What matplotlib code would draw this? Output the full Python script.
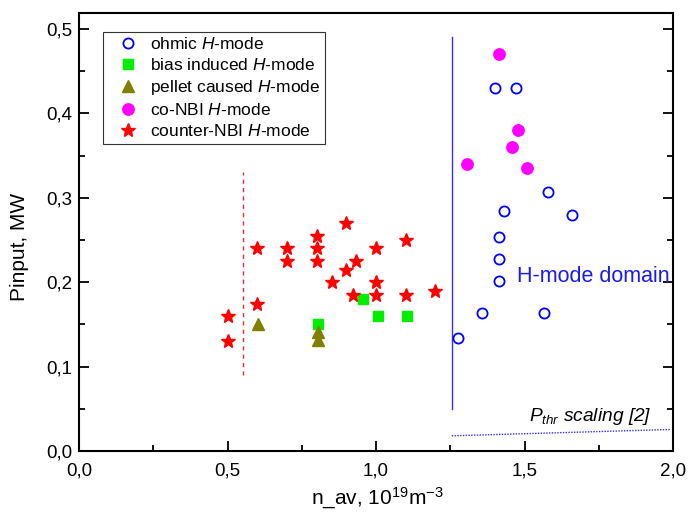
import matplotlib
matplotlib.use("Agg")
import matplotlib.pyplot as plt
from matplotlib.ticker import MultipleLocator, FuncFormatter

plt.rcParams['font.family'] = ['Liberation Sans', 'DejaVu Sans']
plt.rcParams['mathtext.fontset'] = 'custom'
plt.rcParams['mathtext.rm'] = 'Liberation Sans'
plt.rcParams['mathtext.it'] = 'Liberation Sans:italic'
plt.rcParams['mathtext.bf'] = 'Liberation Sans:bold'

# ohmic H-mode
ohmic_n = [1.40, 1.47, 1.58, 1.43, 1.66, 1.415, 1.415, 1.415, 1.355, 1.565, 1.275]
ohmic_p = [0.43, 0.43, 0.307, 0.284, 0.28, 0.254, 0.228, 0.202, 0.163, 0.163, 0.134]

# bias induced H-mode
bias_n = [0.955, 1.005, 1.105, 0.805]
bias_p = [0.18, 0.16, 0.16, 0.15]

# pellet caused H-mode
pellet_n = [0.603, 0.805, 0.805]
pellet_p = [0.151, 0.141, 0.131]

# co-NBI H-mode
co_n = [1.415, 1.477, 1.457, 1.306, 1.507]
co_p = [0.47, 0.38, 0.36, 0.34, 0.335]

# counter-NBI H-mode
ctr_n = [0.50, 0.50, 0.60, 0.60, 0.70, 0.70, 0.80, 0.80, 0.80, 0.90,
         0.933, 0.90, 0.853, 1.00, 1.00, 1.00, 0.923, 1.10, 1.10, 1.20]
ctr_p = [0.160, 0.130, 0.240, 0.174, 0.240, 0.225, 0.255, 0.240, 0.225, 0.270,
         0.225, 0.215, 0.200, 0.240, 0.200, 0.185, 0.185, 0.250, 0.185, 0.190]

# boundary lines
pellet_limit_n = 0.553
pellet_limit_p = [0.09, 0.33]
hmode_limit_n = 1.255
hmode_limit_p = [0.05, 0.49]
pthr_n = [1.255, 1.99]
pthr_p = [0.018, 0.0255]

fig = plt.figure(figsize=(6.9, 5.19), dpi=100)
ax = fig.add_axes([0.1145, 0.131, 0.861, 0.844])

ax.plot(ohmic_n, ohmic_p, 'o', ms=7.3, mfc='white', mec='#0000ff', mew=1.3,
        linestyle='none', label=r'ohmic $H$-mode', zorder=3)
ax.plot(bias_n, bias_p, 's', ms=6.8, color='#00ee00', linestyle='none',
        label=r'bias induced $H$-mode', zorder=3)
ax.plot(pellet_n, pellet_p, '^', ms=9, color='#808000', linestyle='none',
        label=r'pellet caused $H$-mode', zorder=3)
ax.plot(co_n, co_p, 'o', ms=8.2, color='#ff00ff', linestyle='none',
        label=r'co-NBI $H$-mode', zorder=3)
ax.plot(ctr_n, ctr_p, '*', ms=10.5, color='#ff0000', linestyle='none',
        label=r'counter-NBI $H$-mode', zorder=3)

ax.plot([pellet_limit_n, pellet_limit_n], pellet_limit_p, color='#e03030',
        lw=1.0, dashes=(3, 3))
ax.plot([hmode_limit_n, hmode_limit_n], hmode_limit_p, color='#3030ff', lw=1.0)
ax.plot(pthr_n, pthr_p, color='#3030ff', lw=1.0, linestyle=(0, (1, 1)))

ax.text(1.473, 0.207, 'H-mode domain', color='#1a1aee', fontsize=15.5,
        va='center', ha='left')
ax.text(1.515, 0.036, r'$P_{thr}$ scaling [2]', fontsize=13.8, style='italic',
        va='baseline', ha='left')

ax.set_xlim(0, 2.0)
ax.set_ylim(0, 0.519)
ax.xaxis.set_major_locator(MultipleLocator(0.5))
ax.xaxis.set_minor_locator(MultipleLocator(0.25))
ax.yaxis.set_major_locator(MultipleLocator(0.1))
ax.yaxis.set_minor_locator(MultipleLocator(0.05))
comma = FuncFormatter(lambda v, pos: f'{v:.1f}'.replace('.', ','))
ax.xaxis.set_major_formatter(comma)
ax.yaxis.set_major_formatter(comma)
ax.tick_params(which='both', direction='in', top=False, right=True,
               labelsize=13.5, width=1.3)
ax.tick_params(which='major', length=7)
ax.tick_params(which='minor', length=4)
ax.tick_params(axis='x', which='major', pad=8)
ax.tick_params(axis='y', which='major', pad=5)
for side in ['left', 'bottom', 'right', 'top']:
    ax.spines[side].set_linewidth(1.5)

ax.set_xlabel(r'n_av, 10$^{19}$m$^{-3}$', fontsize=15)
ax.set_ylabel('Pinput, MW', fontsize=15)
ax.xaxis.label.set_va('center')
ax.yaxis.label.set_va('center')
ax.xaxis.set_label_coords(0.503, -0.108)
ax.yaxis.set_label_coords(-0.101, 0.466)

leg = ax.legend(loc='upper left', bbox_to_anchor=(0.0408, 0.957), fontsize=12.5,
                frameon=True, fancybox=False, shadow=False, borderpad=0.25,
                labelspacing=0.29, handletextpad=0.05, borderaxespad=0,
                handlelength=2.4, numpoints=1)
leg.get_frame().set_edgecolor('black')
leg.get_frame().set_linewidth(0.8)

fig.savefig('out.png', dpi=100)
